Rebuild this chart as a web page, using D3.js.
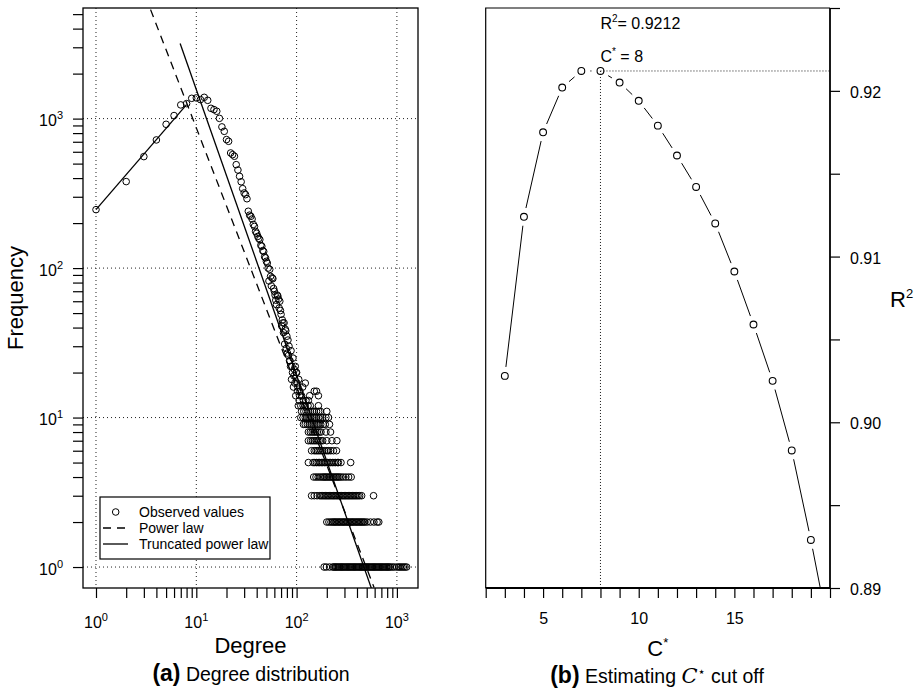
<!DOCTYPE html>
<html lang="en">
<head>
<meta charset="UTF-8">
<title>Degree distribution and C* cut off</title>
<script src="https://d3js.org/d3.v7.min.js"></script>
<style>
    body {
        margin: 0;
        background: #fff;
    }
    svg {
        font-family: "Liberation Sans", Arial, Helvetica, sans-serif;
    }
</style>
</head>
<body>
<svg id="viz" width="916" height="690"></svg>
<script>
    // ---- panel (a): observed degree distribution ----
    var obsDegree = [1, 2, 3, 4, 5, 6, 7, 8, 9, 10, 11, 12, 13, 14, 15, 16, 17, 18, 19, 20,
        21, 22, 23, 24, 25, 26, 27, 28, 29, 30, 31, 32, 33, 34, 35, 36, 37, 38, 39, 40,
        41, 42, 43, 44, 45, 46, 47, 48, 49, 50, 51, 52, 53, 54, 55, 56, 57, 58, 59, 60,
        61, 62, 63, 64, 65, 66, 67, 68, 69, 70, 71, 72, 73, 74, 75, 76, 77, 78, 79, 80,
        81, 82, 83, 84, 85, 86, 87, 88, 89, 90, 91, 92, 93, 94, 95, 96, 97, 98, 99, 100,
        101, 102, 103, 105, 107, 108, 112, 115, 122, 135, 150, 158, 165];
    var obsFreq = [246, 379, 557, 720, 916, 1048, 1235, 1260, 1367, 1375, 1340, 1388, 1325, 1172, 1149, 1120, 1004, 880, 822, 724,
        705, 589, 574, 560, 492, 453, 411, 378, 340, 318, 310, 291, 240, 226, 222, 213, 196, 190, 176, 171,
        163, 158, 155, 142, 140, 131, 129, 119, 117, 111, 108, 100, 82, 98, 88, 76, 86, 85, 73, 70,
        66, 61, 57, 66, 65, 62, 54, 60, 52, 49, 41, 45, 43, 37, 43, 31, 39, 38, 29, 35,
        27, 33, 26, 30, 24, 24, 22, 28, 18, 22, 20, 25, 16, 19, 21, 17, 22, 14, 20, 20,
        17, 15, 16, 18, 14, 15, 14, 16, 17, 14, 15, 15, 14];

    // low-frequency tail: each frequency with the degrees seen at it
    var tailFreq = [13, 12, 11, 10, 9, 8, 7, 6, 5, 4, 3, 2, 1];
    var tailDegrees = [
        [106, 117, 124, 131],
        [104, 110, 116, 122, 130, 137, 165],
        [112, 118, 124, 131, 137, 144, 150, 158, 166, 173, 200],
        [110, 116, 122, 127, 133, 139, 146, 152, 158, 166, 174, 182, 196, 208],
        [117, 122, 128, 134, 140, 146, 152, 159, 166, 174, 184, 193, 213],
        [131, 137, 143, 149, 155, 161, 168, 175, 196, 218],
        [131, 138, 144, 150, 156, 162, 168, 175, 182, 200, 225, 252],
        [141, 150, 156, 162, 168, 175, 182, 190, 200, 208, 219, 233, 250],
        [131, 146, 152, 158, 164, 170, 176, 182, 189, 196, 203, 211, 219, 227, 236, 245, 256, 261, 277, 346],
        [148, 156, 164, 172, 180, 186, 192, 198, 205, 212, 219, 226, 234, 242, 250, 258, 266, 277, 292, 310, 330, 350],
        [141, 150, 160, 170, 176, 182, 188, 194, 200, 206, 212, 219, 226, 233, 240, 248, 256, 264, 272, 281,
            290, 299, 308, 318, 328, 338, 349, 360, 372, 384, 397, 410, 425, 445, 585],
        [200, 210, 220, 228, 235, 242, 249, 257, 265, 273, 281, 290, 298, 307, 317, 326, 336, 346, 357, 367,
            378, 390, 402, 414, 426, 439, 452, 466, 480, 505, 545, 590, 635, 660],
        [188, 198, 213, 229, 235, 242, 248, 255, 262, 269, 277, 284, 292, 300, 308, 317, 326, 335, 344, 353,
            363, 373, 383, 394, 405, 416, 427, 439, 451, 463, 476, 489, 502, 516, 530, 545, 560, 575, 591, 607,
            624, 641, 658, 676, 695, 714, 733, 753, 774, 795, 817, 839, 862, 900, 940, 995, 1040, 1075, 1120,
            1160, 1205, 1250]
    ];

    // fitted lines, end points
    var powerLawX = [3.5, 592];
    var powerLawY = [5360, 0.73];
    var truncRiseX = [1, 8];
    var truncRiseY = [246, 1240];
    var truncFallX = [6.9, 561];
    var truncFallY = [3177, 0.71];

    var decades = [1, 10, 100, 1000];
    var decadeExp = ["0", "1", "2", "3"];
    var legendLabels = ["Observed values", "Power law", "Truncated power law"];

    // ---- panel (b): R^2 against the cut off C* ----
    var cutoff = [3, 4, 5, 6, 7, 8, 9, 10, 11, 12, 13, 14, 15, 16, 17, 18, 19, 20];
    var rSquared = [0.9028, 0.9124, 0.9175, 0.9202, 0.9212, 0.9212, 0.9205, 0.9194, 0.9179, 0.9161,
        0.9142, 0.9120, 0.9091, 0.9059, 0.9025, 0.8983, 0.8929, 0.8870];
    var bestC = 8;
    var bestR2 = 0.9212;
    var cLabels = [5, 10, 15];
    var r2Labels = [0.89, 0.90, 0.91, 0.92];

    var svg = d3.select("#viz");

    // =================== panel (a) ===================
    var aLeft = 83, aRight = 418, pTop = 8, pBottom = 588;

    var xA = d3.scaleLog().domain([0.742, 1623]).range([aLeft, aRight]);
    var yA = d3.scaleLog().domain([0.724, 5495]).range([pBottom, pTop]);

    svg.append("clipPath").attr("id", "clipA")
        .append("rect").attr("x", aLeft).attr("y", pTop)
        .attr("width", aRight - aLeft).attr("height", pBottom - pTop);

    var gA = svg.append("g");

    // dotted grid at the decades
    gA.selectAll("line.vgrid").data(decades).enter().append("line")
        .attr("class", "vgrid")
        .attr("x1", function (d) { return xA(d); })
        .attr("x2", function (d) { return xA(d); })
        .attr("y1", pTop).attr("y2", pBottom)
        .attr("stroke", "#222").attr("stroke-width", 1)
        .attr("stroke-dasharray", "1,3");
    gA.selectAll("line.hgrid").data(decades).enter().append("line")
        .attr("class", "hgrid")
        .attr("y1", function (d) { return yA(d); })
        .attr("y2", function (d) { return yA(d); })
        .attr("x1", aLeft).attr("x2", aRight)
        .attr("stroke", "#222").attr("stroke-width", 1)
        .attr("stroke-dasharray", "1,3");

    var lineA = d3.line()
        .x(function (d) { return xA(d[0]); })
        .y(function (d) { return yA(d[1]); });

    var plotA = gA.append("g").attr("clip-path", "url(#clipA)");

    plotA.append("path")
        .datum(d3.zip(powerLawX, powerLawY))
        .attr("d", lineA)
        .attr("fill", "none").attr("stroke", "#000").attr("stroke-width", 1.3)
        .attr("stroke-dasharray", "8,6");
    plotA.append("path")
        .datum(d3.zip(truncRiseX, truncRiseY))
        .attr("d", lineA)
        .attr("fill", "none").attr("stroke", "#000").attr("stroke-width", 1.3);
    plotA.append("path")
        .datum(d3.zip(truncFallX, truncFallY))
        .attr("d", lineA)
        .attr("fill", "none").attr("stroke", "#000").attr("stroke-width", 1.3);

    var points = d3.zip(obsDegree, obsFreq);
    tailFreq.forEach(function (f, i) {
        tailDegrees[i].forEach(function (d) { points.push([d, f]); });
    });

    plotA.selectAll("circle").data(points).enter().append("circle")
        .attr("cx", function (d) { return xA(d[0]); })
        .attr("cy", function (d) { return yA(d[1]); })
        .attr("r", 3.3)
        .attr("fill", "none").attr("stroke", "#000").attr("stroke-width", 1);

    gA.append("rect")
        .attr("x", aLeft).attr("y", pTop)
        .attr("width", aRight - aLeft).attr("height", pBottom - pTop)
        .attr("fill", "none").attr("stroke", "#000").attr("stroke-width", 1.3);

    // axes: all ticks from the library, labels with superscripts added below
    var xTicks = xA.ticks().filter(function (t) { return t >= 1; });
    var yTicks = yA.ticks().filter(function (t) { return t >= 1; });

    var xAxisA = gA.append("g").attr("transform", "translate(0," + pBottom + ")")
        .call(d3.axisBottom(xA).tickValues(xTicks).tickSize(10).tickFormat(""));
    var yAxisA = gA.append("g").attr("transform", "translate(" + aLeft + ",0)")
        .call(d3.axisLeft(yA).tickValues(yTicks).tickSize(10).tickFormat(""));
    [xAxisA, yAxisA].forEach(function (ax) {
        ax.select(".domain").remove();
        ax.selectAll("line").attr("stroke", "#000").attr("stroke-width", 1.2);
    });

    var xLab = gA.selectAll("text.xlab").data(decades).enter().append("text")
        .attr("class", "xlab")
        .attr("x", function (d) { return xA(d); })
        .attr("y", 628)
        .attr("text-anchor", "middle")
        .attr("font-size", 16);
    xLab.append("tspan").text("10");
    xLab.append("tspan").attr("dy", -7).attr("font-size", 11)
        .text(function (d, i) { return decadeExp[i]; });

    var yLab = gA.selectAll("text.ylab").data(decades).enter().append("text")
        .attr("class", "ylab")
        .attr("x", 63)
        .attr("y", function (d) { return yA(d) + 7.5; })
        .attr("text-anchor", "end")
        .attr("font-size", 16);
    yLab.append("tspan").text("10");
    yLab.append("tspan").attr("dy", -7).attr("font-size", 11)
        .text(function (d, i) { return decadeExp[i]; });

    gA.append("text")
        .attr("x", (aLeft + aRight) / 2).attr("y", 653)
        .attr("text-anchor", "middle").attr("font-size", 22)
        .text("Degree");
    gA.append("text")
        .attr("transform", "translate(23," + (pTop + pBottom) / 2 + ") rotate(-90)")
        .attr("text-anchor", "middle").attr("font-size", 22)
        .text("Frequency");

    var capA = gA.append("text")
        .attr("x", 251).attr("y", 681)
        .attr("text-anchor", "middle");
    capA.append("tspan").attr("font-weight", "bold").attr("font-size", 23).text("(a)");
    capA.append("tspan").attr("font-size", 19.5).text(" Degree distribution");

    // legend
    var leg = gA.append("g");
    leg.append("rect")
        .attr("x", 100).attr("y", 497).attr("width", 170).attr("height", 62)
        .attr("fill", "#fff").attr("stroke", "#000").attr("stroke-width", 1.2);
    leg.append("circle")
        .attr("cx", 115.7).attr("cy", 512).attr("r", 3.3)
        .attr("fill", "none").attr("stroke", "#000").attr("stroke-width", 1);
    leg.append("line")
        .attr("x1", 103).attr("x2", 128).attr("y1", 528).attr("y2", 528)
        .attr("stroke", "#000").attr("stroke-width", 1.3).attr("stroke-dasharray", "8,6");
    leg.append("line")
        .attr("x1", 103).attr("x2", 128).attr("y1", 544).attr("y2", 544)
        .attr("stroke", "#000").attr("stroke-width", 1.3);
    leg.selectAll("text").data(legendLabels).enter().append("text")
        .attr("x", 139)
        .attr("y", function (d, i) { return 517 + i * 16; })
        .attr("font-size", 14)
        .text(function (d) { return d; });

    // =================== panel (b) ===================
    var bLeft = 485.7, bRight = 830;

    var xB = d3.scaleLinear().domain([2, 20]).range([bLeft, bRight]);
    var yB = d3.scaleLinear().domain([0.89, 0.925]).range([pBottom, pTop]);

    svg.append("clipPath").attr("id", "clipB")
        .append("rect").attr("x", bLeft).attr("y", pTop)
        .attr("width", bRight - bLeft).attr("height", pBottom - pTop);

    var gB = svg.append("g");

    // dotted guides at the best cut off
    gB.append("line")
        .attr("x1", xB(bestC)).attr("x2", xB(bestC))
        .attr("y1", yB(bestR2)).attr("y2", pBottom)
        .attr("stroke", "#000").attr("stroke-width", 0.9).attr("stroke-dasharray", "1,2");
    gB.append("line")
        .attr("x1", xB(bestC)).attr("x2", bRight)
        .attr("y1", yB(bestR2)).attr("y2", yB(bestR2))
        .attr("stroke", "#000").attr("stroke-width", 0.9).attr("stroke-dasharray", "1,2");

    var plotB = gB.append("g").attr("clip-path", "url(#clipB)");
    var pts = d3.zip(cutoff, rSquared).map(function (d) { return [xB(d[0]), yB(d[1])]; });
    var gap = 9;
    var segs = [];
    for (var i = 0; i < pts.length - 1; i++) {
        var dx = pts[i + 1][0] - pts[i][0], dy = pts[i + 1][1] - pts[i][1];
        var len = Math.sqrt(dx * dx + dy * dy);
        if (len > 2 * gap) {
            segs.push([pts[i][0] + dx * gap / len, pts[i][1] + dy * gap / len,
                pts[i + 1][0] - dx * gap / len, pts[i + 1][1] - dy * gap / len]);
        }
    }
    plotB.selectAll("line").data(segs).enter().append("line")
        .attr("x1", function (d) { return d[0]; })
        .attr("y1", function (d) { return d[1]; })
        .attr("x2", function (d) { return d[2]; })
        .attr("y2", function (d) { return d[3]; })
        .attr("stroke", "#000").attr("stroke-width", 1);
    plotB.selectAll("circle").data(pts).enter().append("circle")
        .attr("cx", function (d) { return d[0]; })
        .attr("cy", function (d) { return d[1]; })
        .attr("r", 3.4)
        .attr("fill", "none").attr("stroke", "#000").attr("stroke-width", 1.1);

    // frame (left and top thin)
    gB.append("path")
        .attr("d", "M" + bRight + "," + pTop + "H" + bLeft + "V" + pBottom)
        .attr("fill", "none").attr("stroke", "#000").attr("stroke-width", 1.2);

    var cTicks = xB.ticks(18);
    var rTicks = yB.ticks(7);

    var xAxisB = gB.append("g").attr("transform", "translate(0," + pBottom + ")")
        .call(d3.axisBottom(xB).tickValues(cTicks).tickSize(10)
            .tickFormat(function (d) { return cLabels.indexOf(d) >= 0 ? d : ""; }));
    var yAxisB = gB.append("g").attr("transform", "translate(" + bRight + ",0)")
        .call(d3.axisRight(yB).tickValues(rTicks).tickSize(10)
            .tickFormat(function (d) {
                var hit = r2Labels.some(function (v) { return Math.abs(v - d) < 1e-6; });
                return hit ? d3.format(".2f")(d) : "";
            }));
    [xAxisB, yAxisB].forEach(function (ax) {
        ax.select(".domain").remove();
        ax.selectAll("line").attr("stroke", "#000").attr("stroke-width", 1.2);
        ax.selectAll("text").attr("font-size", 16).attr("fill", "#000")
            .attr("font-family", "Liberation Sans, Arial, sans-serif");
    });
    xAxisB.selectAll("text").attr("dy", null).attr("y", 36);
    yAxisB.selectAll("text").attr("dy", null).attr("x", 20).attr("y", 6.5);

    // heavier axis lines (bottom and right)
    gB.append("line")
        .attr("x1", bLeft).attr("x2", bRight).attr("y1", pBottom).attr("y2", pBottom)
        .attr("stroke", "#000").attr("stroke-width", 1.8);
    gB.append("line")
        .attr("x1", bRight).attr("x2", bRight).attr("y1", pTop).attr("y2", pBottom)
        .attr("stroke", "#000").attr("stroke-width", 1.8);

    // annotations
    var ann1 = gB.append("text").attr("x", xB(bestC)).attr("y", 29).attr("font-size", 16);
    ann1.append("tspan").text("R");
    ann1.append("tspan").attr("dy", -7).attr("font-size", 10).text("2");
    ann1.append("tspan").attr("dy", 7).text("= " + bestR2);

    var ann2 = gB.append("text").attr("x", xB(bestC)).attr("y", 62).attr("font-size", 16);
    ann2.append("tspan").text("C");
    ann2.append("tspan").attr("dy", -7).attr("font-size", 10).text("*");
    ann2.append("tspan").attr("dy", 7).text(" = " + bestC);

    var xTitleB = gB.append("text")
        .attr("x", (bLeft + bRight) / 2).attr("y", 656)
        .attr("text-anchor", "middle").attr("font-size", 22);
    xTitleB.append("tspan").text("C");
    xTitleB.append("tspan").attr("dy", -9).attr("font-size", 13).text("*");

    var yTitleB = gB.append("text")
        .attr("x", 890).attr("y", 307).attr("font-size", 22);
    yTitleB.append("tspan").text("R");
    yTitleB.append("tspan").attr("dy", -9).attr("font-size", 13).text("2");

    var capB = gB.append("text")
        .attr("x", 657).attr("y", 683)
        .attr("text-anchor", "middle");
    capB.append("tspan").attr("font-weight", "bold").attr("font-size", 23).text("(b)");
    capB.append("tspan").attr("font-size", 19.5).text(" Estimating ");
    capB.append("tspan").attr("font-size", 21).attr("font-style", "italic")
        .attr("font-family", "'DejaVu Serif', 'Liberation Serif', serif").text("C");
    capB.append("tspan").attr("font-size", 13).attr("dy", -7)
        .attr("font-family", "'DejaVu Sans', sans-serif").text("\u22C6");
    capB.append("tspan").attr("font-size", 19.5).attr("dy", 7).text(" cut off");
</script>
</body>
</html>
